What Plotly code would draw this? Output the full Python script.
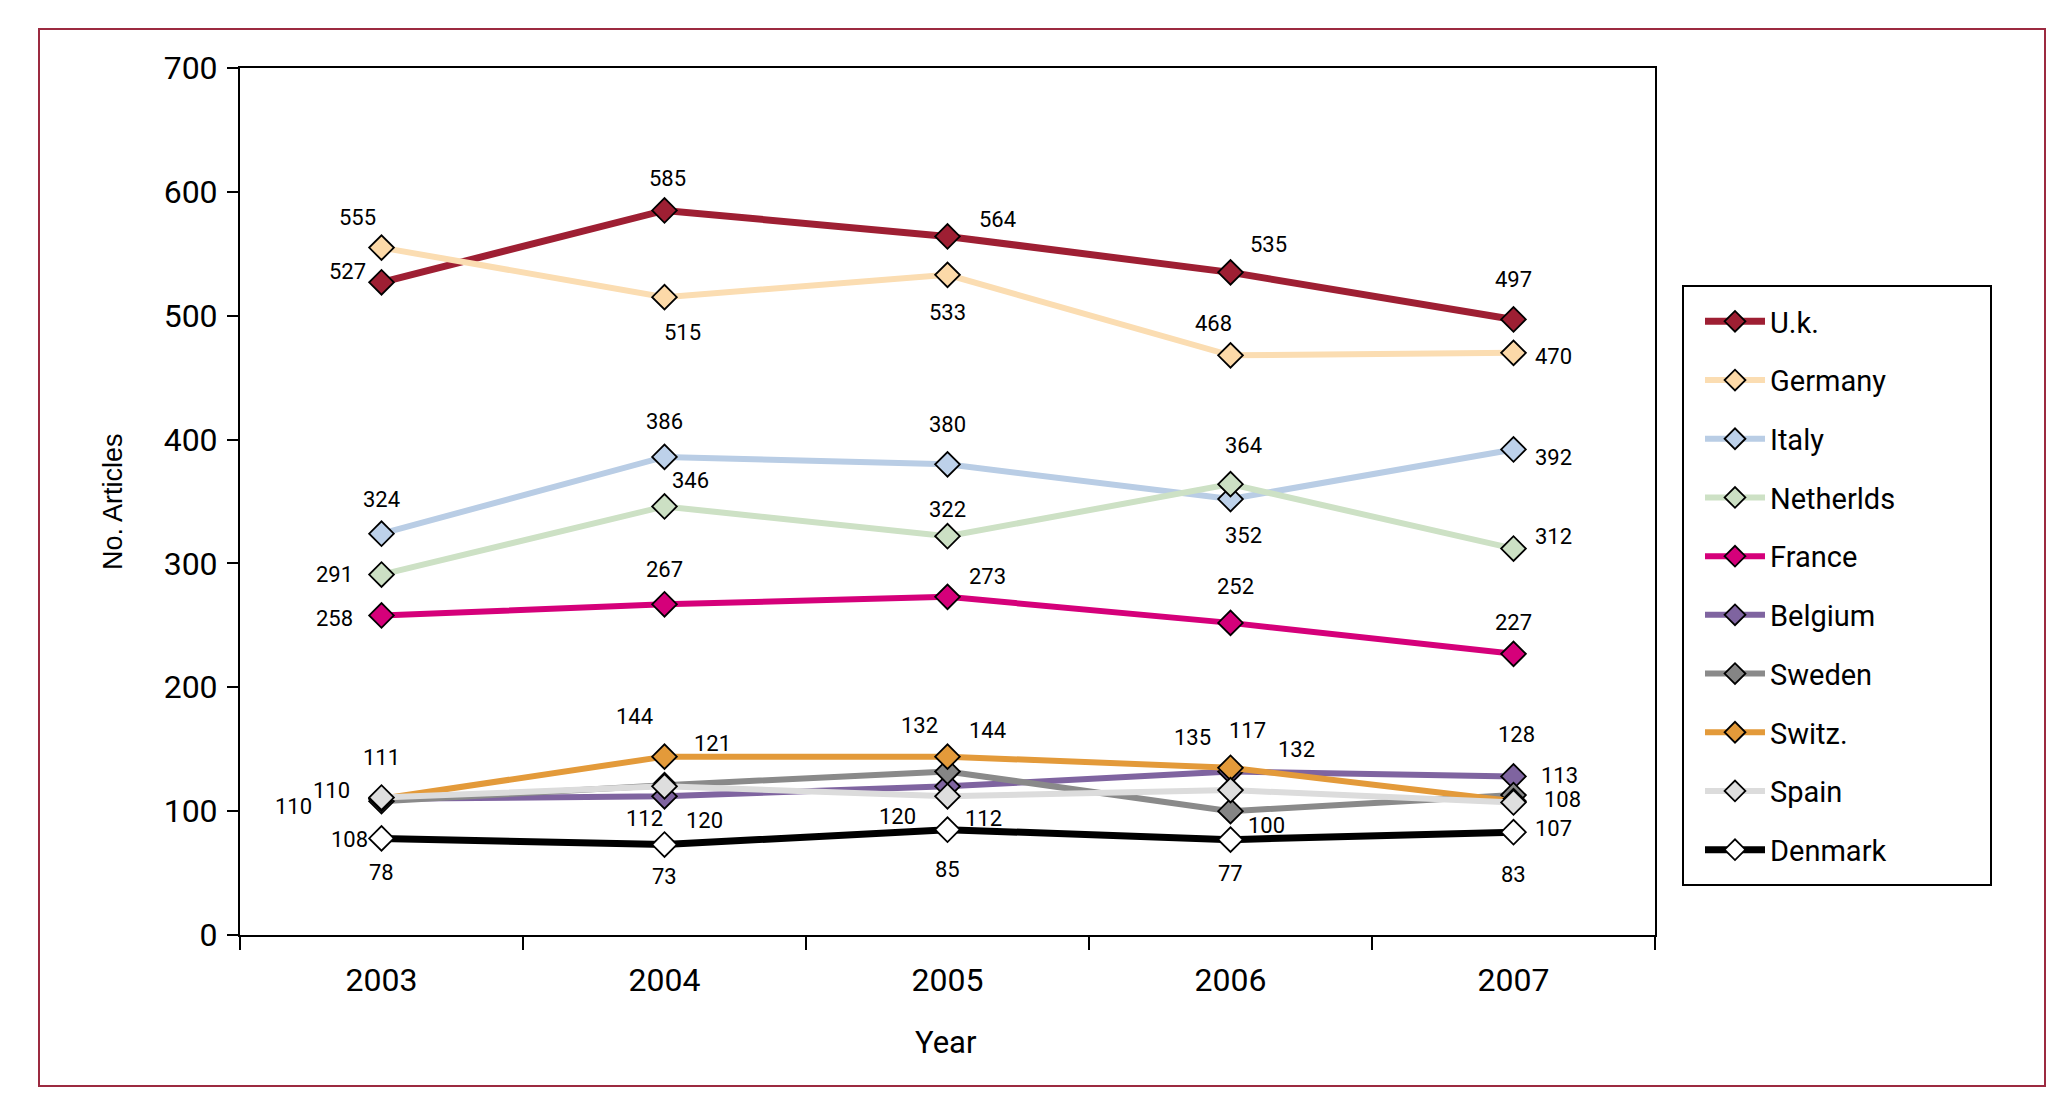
import plotly.graph_objects as go

years = ["2003", "2004", "2005", "2006", "2007"]
uk = [527, 585, 564, 535, 497]
germany = [555, 515, 533, 468, 470]
italy = [324, 386, 380, 352, 392]
netherlands = [291, 346, 322, 364, 312]
france = [258, 267, 273, 252, 227]
belgium = [110, 112, 120, 132, 128]
sweden = [108, 121, 132, 100, 113]
switz = [110, 144, 144, 135, 108]
spain = [111, 120, 112, 117, 107]
denmark = [78, 73, 85, 77, 83]

NARROW = "Roboto, Liberation Sans Narrow, Arial Narrow, sans-serif"

# plot area in pixels
L, R, T, B = 232, 1647, 60, 927
W, H = 2066, 1095

# name, values, line color, marker fill, line width, label offsets (dx, dy up) in px
series = [
    ("U.k.", uk, "#9E1F33", "#9E1F33", 7,
     [(-34, 11), (3, 32), (50, 17), (38, 28), (0, 40)]),
    ("Germany", germany, "#FBDDB2", "#FCD9A8", 6,
     [(-24, 30), (18, -35), (0, -38), (-17, 32), (40, -4)]),
    ("Italy", italy, "#B9CDE5", "#BDD1EA", 6,
     [(0, 34), (0, 35), (0, 40), (13, -36), (40, -8)]),
    ("Netherlds", netherlands, "#CDE1C5", "#CCE0C4", 6,
     [(-47, 0), (26, 26), (0, 27), (13, 39), (40, 12)]),
    ("France", france, "#D5007A", "#D5007A", 6,
     [(-47, -3), (0, 35), (40, 20), (5, 36), (0, 31)]),
    ("Belgium", belgium, "#7F64A0", "#7F64A0", 6,
     [(-50, 8), (-20, -22), (-50, -30), (66, 22), (3, 42)]),
    ("Sweden", sweden, "#8A8A8A", "#858585", 6,
     [(-32, -38), (48, 42), (-28, 46), (36, -14), (46, 20)]),
    ("Switz.", switz, "#E39A3A", "#E39A3A", 6,
     [(-88, -8), (-30, 40), (40, 26), (-38, 30), (49, 2)]),
    ("Spain", spain, "#DCDCDC", "#DEDEDE", 6,
     [(0, 40), (40, -34), (36, -22), (17, 60), (40, -26)]),
    ("Denmark", denmark, "#000000", "#FFFFFF", 7,
     [(0, -34), (0, -32), (0, -40), (0, -34), (0, -42)]),
]

fig = go.Figure()
annotations = []
for i, (name, vals, lc, mc, lw, offs) in enumerate(series):
    fig.add_trace(go.Scatter(
        x=years, y=vals, name=name, mode="lines+markers",
        line=dict(color=lc, width=lw),
        marker=dict(symbol="diamond", size=19, color=mc,
                    line=dict(color="#000000", width=1.8)),
        legendgroup=f"g{i}",
        hoverinfo="x+y+name",
    ))
    for k, (v, (dx, dy)) in enumerate(zip(vals, offs)):
        annotations.append(dict(
            x=k, y=v, xref="x", yref="y", text=str(v), showarrow=False,
            xshift=dx, yshift=dy, xanchor="center", yanchor="middle",
            font=dict(family=NARROW, size=22, color="#000000"),
        ))

def px_x(p):
    return (p - L) / (R - L)

def px_y(p):
    return (B - p) / (B - T)

# axis titles
annotations.append(dict(
    text="Year", xref="paper", yref="paper", x=px_x(938), y=px_y(1034),
    xanchor="center", yanchor="middle", showarrow=False,
    font=dict(family=NARROW, size=31, color="#000000"),
))
annotations.append(dict(
    text="No. Articles", xref="paper", yref="paper", x=px_x(105), y=px_y(494),
    xanchor="center", yanchor="middle", showarrow=False, textangle=-90,
    font=dict(family="Liberation Sans, Arial, sans-serif", size=27, color="#000000"),
))

shapes = [
    dict(type="rect", xref="paper", yref="paper",
         x0=px_x(31), x1=px_x(2037), y0=px_y(1078), y1=px_y(21),
         line=dict(color="#9C2A40", width=2), fillcolor="rgba(0,0,0,0)", layer="below"),
    dict(type="rect", xref="paper", yref="paper",
         x0=px_x(1675), x1=px_x(1983), y0=px_y(877), y1=px_y(278),
         line=dict(color="#000000", width=2), fillcolor="rgba(0,0,0,0)"),
]

fig.update_layout(
    width=W, height=H,
    paper_bgcolor="#FFFFFF", plot_bgcolor="#FFFFFF",
    margin=dict(l=L, r=W - R, t=T, b=H - B, autoexpand=False),
    showlegend=True,
    legend=dict(
        x=px_x(1692), y=px_y(288), xanchor="left", yanchor="top",
        bgcolor="rgba(0,0,0,0)", borderwidth=0,
        font=dict(family=NARROW, size=29, color="#000000"),
        tracegroupgap=18, itemwidth=60,
    ),
    xaxis=dict(
        type="category", range=[-0.5, 4.5], tickson="boundaries",
        ticks="outside", ticklen=13, tickangle=0,
        tickwidth=2, tickcolor="#000000",
        showline=True, linecolor="#000000", linewidth=2, mirror=True,
        showgrid=False, zeroline=False,
        tickfont=dict(family=NARROW, size=32, color="#000000"),
        ticklabelstandoff=16,
    ),
    yaxis=dict(
        range=[0, 700], dtick=100, ticks="outside", ticklen=11,
        tickwidth=2, tickcolor="#000000",
        showline=True, linecolor="#000000", linewidth=2, mirror=True,
        showgrid=False, zeroline=False,
        tickfont=dict(family=NARROW, size=32, color="#000000"),
        ticklabelstandoff=3,
    ),
    annotations=annotations,
    shapes=shapes,
)

fig.write_html("out.html")
